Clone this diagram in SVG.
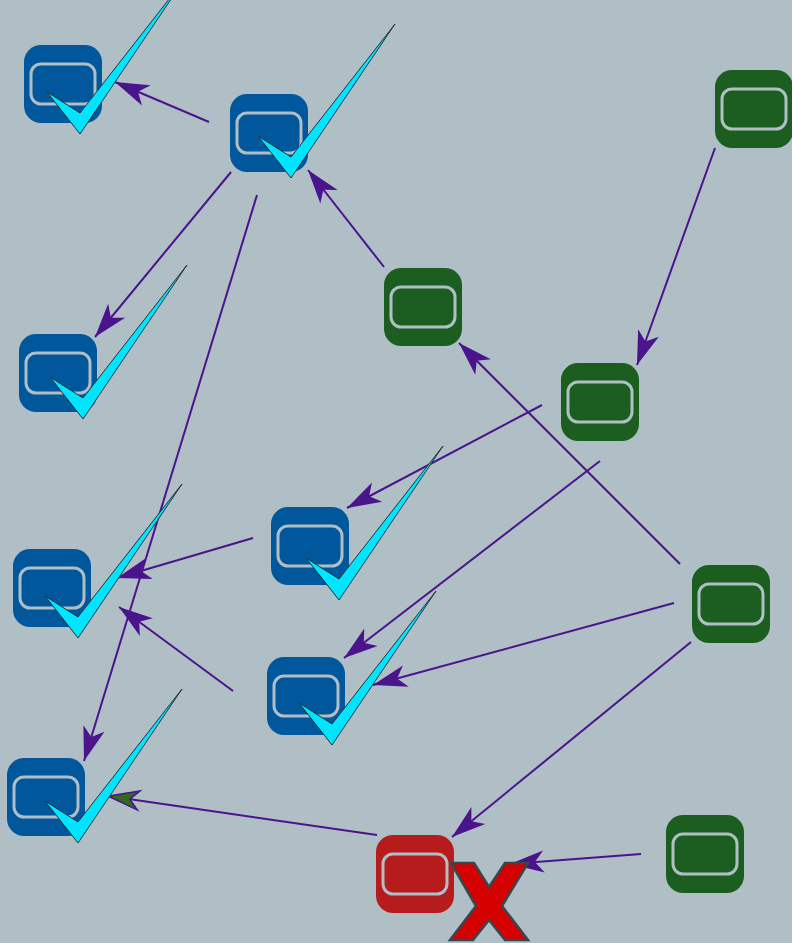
<svg xmlns="http://www.w3.org/2000/svg" width="792" height="943" viewBox="0 0 792 943">
<style>
.bg{fill:#b0bec5}
.box{stroke:none}
.blue{fill:#01579b}
.green{fill:#1b5e20}
.red{fill:#b71c1c}
.inner{fill:none;stroke:#b0bec5;stroke-width:3}
.edge{fill:none;stroke:#4a148c;stroke-width:2}
.check{fill:#00e5ff;stroke:#263238;stroke-width:1;stroke-linejoin:miter}
.cross{fill:#d50000;stroke:#37474f;stroke-width:2.5;stroke-linejoin:miter}
</style>
<defs>
<marker id="arr" markerUnits="userSpaceOnUse" markerWidth="38" markerHeight="26" viewBox="-36 -13 38 26" refX="0" refY="0" orient="auto">
<path d="M0,0 L-34,-11 L-25,0 L-34,11 Z" fill="#4a148c"/>
</marker>
<marker id="arrG" markerUnits="userSpaceOnUse" markerWidth="38" markerHeight="26" viewBox="-36 -13 38 26" refX="0" refY="0" orient="auto">
<path d="M0,0 L-31,-9.5 L-22,0 L-31,9.5 Z" fill="#33691e" stroke="#4a148c" stroke-width="1.5"/>
</marker>
<polygon id="chk" class="check" points="0,0 33,21 137,-112 33,42"/>
</defs>
<rect class="bg" x="0" y="0" width="792" height="943"/>

<g id="nodeA"><rect class="box blue" x="24" y="45" width="78" height="78" rx="17"/><rect class="inner" x="31" y="64" width="64" height="40" rx="10"/></g>
<g id="nodeB"><rect class="box blue" x="230" y="94" width="78" height="78" rx="17"/><rect class="inner" x="237" y="113" width="64" height="40" rx="10"/></g>
<g id="nodeC"><rect class="box blue" x="19" y="334" width="78" height="78" rx="17"/><rect class="inner" x="26" y="353" width="64" height="40" rx="10"/></g>
<g id="nodeD"><rect class="box blue" x="271" y="507" width="78" height="78" rx="17"/><rect class="inner" x="278" y="526" width="64" height="40" rx="10"/></g>
<g id="nodeE"><rect class="box blue" x="13" y="549" width="78" height="78" rx="17"/><rect class="inner" x="20" y="568" width="64" height="40" rx="10"/></g>
<g id="nodeF"><rect class="box blue" x="267" y="657" width="78" height="78" rx="17"/><rect class="inner" x="274" y="676" width="64" height="40" rx="10"/></g>
<g id="nodeG"><rect class="box blue" x="7" y="758" width="78" height="78" rx="17"/><rect class="inner" x="14" y="777" width="64" height="40" rx="10"/></g>
<g id="nodeH"><rect class="box green" x="715" y="70" width="78" height="78" rx="17"/><rect class="inner" x="722" y="89" width="64" height="40" rx="10"/></g>
<g id="nodeI"><rect class="box green" x="384" y="268" width="78" height="78" rx="17"/><rect class="inner" x="391" y="287" width="64" height="40" rx="10"/></g>
<g id="nodeJ"><rect class="box green" x="561" y="363" width="78" height="78" rx="17"/><rect class="inner" x="568" y="382" width="64" height="40" rx="10"/></g>
<g id="nodeK"><rect class="box green" x="692" y="565" width="78" height="78" rx="17"/><rect class="inner" x="699" y="584" width="64" height="40" rx="10"/></g>
<g id="nodeL"><rect class="box green" x="666" y="815" width="78" height="78" rx="17"/><rect class="inner" x="673" y="834" width="64" height="40" rx="10"/></g>
<g id="nodeM"><rect class="box red" x="376" y="835" width="78" height="78" rx="17"/><rect class="inner" x="383" y="854" width="64" height="40" rx="10"/></g>

<g id="connectors">
<line class="edge" x1="209" y1="122" x2="115" y2="82" marker-end="url(#arr)"/>
<line class="edge" x1="231" y1="172" x2="95" y2="337" marker-end="url(#arr)"/>
<line class="edge" x1="257" y1="195" x2="84" y2="761" marker-end="url(#arr)"/>
<line class="edge" x1="384" y1="267" x2="308" y2="170" marker-end="url(#arr)"/>
<line class="edge" x1="715" y1="148" x2="637" y2="365" marker-end="url(#arr)"/>
<line class="edge" x1="542" y1="405" x2="347" y2="508" marker-end="url(#arr)"/>
<line class="edge" x1="680" y1="564" x2="459" y2="343" marker-end="url(#arr)"/>
<line class="edge" x1="600" y1="461" x2="344" y2="658" marker-end="url(#arr)"/>
<line class="edge" x1="674" y1="603" x2="373" y2="685" marker-end="url(#arr)"/>
<line class="edge" x1="691" y1="642" x2="452" y2="837" marker-end="url(#arr)"/>
<line class="edge" x1="641" y1="854" x2="510" y2="864" marker-end="url(#arr)"/>
<line class="edge" x1="377" y1="835" x2="108" y2="796" marker-end="url(#arrG)"/>
<line class="edge" x1="253" y1="538" x2="117" y2="578" marker-end="url(#arr)"/>
<line class="edge" x1="233" y1="691" x2="119" y2="607" marker-end="url(#arr)"/>
</g>

<g id="badges">
<use href="#chk" transform="translate(47,92)"/>
<use href="#chk" transform="translate(258,136)"/>
<use href="#chk" transform="translate(50,377)"/>
<use href="#chk" transform="translate(306,558)"/>
<use href="#chk" transform="translate(45,596)"/>
<use href="#chk" transform="translate(299,703)"/>
<use href="#chk" transform="translate(45,801)"/>
<polygon class="cross" points="451,863 474,863 489,887 505,863 528,863 502,906 528,940 505,940 489,920 473,940 450,940 476,906"/>
</g>
</svg>
